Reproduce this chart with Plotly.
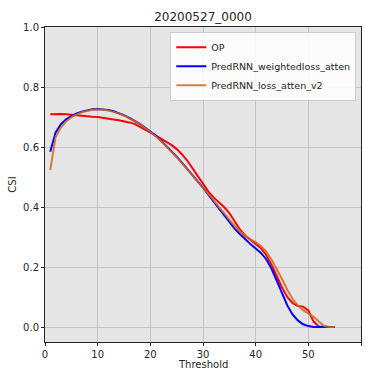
import plotly.graph_objects as go

thresholds = list(range(1, 56))

op_csi = [0.709, 0.710, 0.710, 0.709, 0.707, 0.705, 0.704, 0.703, 0.701, 0.700,
          0.698, 0.695, 0.692, 0.689, 0.686, 0.682, 0.677, 0.668, 0.659, 0.649,
          0.639, 0.628, 0.618, 0.607, 0.593, 0.576, 0.555, 0.530, 0.503, 0.476,
          0.452, 0.432, 0.416, 0.400, 0.380, 0.352, 0.325, 0.305, 0.291, 0.279,
          0.263, 0.240, 0.208, 0.170, 0.132, 0.100, 0.080, 0.070, 0.068, 0.055,
          0.018, 0.002, 0.0, 0.0, 0.0]

weighted_csi = [0.584, 0.648, 0.675, 0.692, 0.703, 0.712, 0.718, 0.723, 0.726, 0.727,
                0.726, 0.723, 0.719, 0.713, 0.706, 0.697, 0.688, 0.677, 0.665, 0.652,
                0.638, 0.622, 0.605, 0.587, 0.568, 0.548, 0.528, 0.507, 0.486, 0.465,
                0.441, 0.418, 0.394, 0.370, 0.347, 0.328, 0.310, 0.292, 0.277, 0.262,
                0.247, 0.226, 0.195, 0.155, 0.112, 0.072, 0.042, 0.022, 0.009, 0.003,
                0.0, 0.0, 0.0, 0.0, 0.0]

atten_v2_csi = [0.523, 0.632, 0.665, 0.685, 0.699, 0.709, 0.716, 0.721, 0.724, 0.725,
                0.725, 0.722, 0.718, 0.712, 0.705, 0.696, 0.687, 0.676, 0.664, 0.651,
                0.636, 0.620, 0.603, 0.585, 0.566, 0.546, 0.526, 0.506, 0.486, 0.465,
                0.444, 0.423, 0.400, 0.378, 0.357, 0.337, 0.319, 0.303, 0.292, 0.283,
                0.270, 0.251, 0.225, 0.195, 0.160, 0.124, 0.094, 0.072, 0.056, 0.045,
                0.034, 0.018, 0.003, 0.0, 0.0]

series_names = ["OP", "PredRNN_weightedloss_atten", "PredRNN_loss_atten_v2"]
x_ticks = [0, 10, 20, 30, 40, 50, 60]
y_ticks = [0.0, 0.2, 0.4, 0.6, 0.8, 1.0]

fig = go.Figure()
fig.add_trace(go.Scatter(x=thresholds, y=op_csi, mode="lines", name=series_names[0],
                         line=dict(color="#ff0000", width=2)))
fig.add_trace(go.Scatter(x=thresholds, y=weighted_csi, mode="lines", name=series_names[1],
                         line=dict(color="#0000ff", width=2)))
fig.add_trace(go.Scatter(x=thresholds, y=atten_v2_csi, mode="lines", name=series_names[2],
                         line=dict(color="#d2691e", width=2), opacity=0.85))

axis_common = dict(
    showgrid=True, gridcolor="#c4c4c4", gridwidth=1,
    showline=True, linecolor="#262626", linewidth=1, mirror=True,
    ticks="outside", ticklen=3, tickwidth=1, tickcolor="#262626",
    tickfont=dict(family="DejaVu Sans", size=10, color="#262626"),
    zeroline=False,
)

fig.update_layout(
    width=366, height=369,
    margin=dict(l=45, r=5, t=27, b=27, autoexpand=False),
    paper_bgcolor="white", plot_bgcolor="#e5e5e5",
    font=dict(family="DejaVu Sans", size=10, color="#262626"),
    title=dict(text="20200527_0000", x=0.5, xref="paper", xanchor="center",
               y=1 - 17 / 369, yref="container", yanchor="middle",
               font=dict(family="DejaVu Sans", size=12, color="#262626")),
    xaxis=dict(range=[0, 60], tickvals=x_ticks, **axis_common),
    yaxis=dict(range=[-0.05, 1.0], tickvals=y_ticks, tickformat=".1f",
               title=dict(text="CSI", standoff=4,
                          font=dict(family="DejaVu Sans", size=10, color="#262626")),
               **axis_common),
    legend=dict(x=0.985, y=0.985, xanchor="right", yanchor="top",
                bgcolor="rgba(255,255,255,0.85)", bordercolor="#cccccc", borderwidth=1,
                font=dict(family="DejaVu Sans", size=9.5, color="#262626"),
                tracegroupgap=0, itemwidth=30),
    showlegend=True,
    annotations=[dict(text="Threshold", xref="paper", yref="paper", x=0.5, y=-22 / 315,
                      xanchor="center", yanchor="middle", showarrow=False,
                      font=dict(family="DejaVu Sans", size=10, color="#262626"))],
)

fig.write_html("out.html", config={"displayModeBar": False},
               post_script="document.body.style.margin='0';document.body.style.padding='0';")
